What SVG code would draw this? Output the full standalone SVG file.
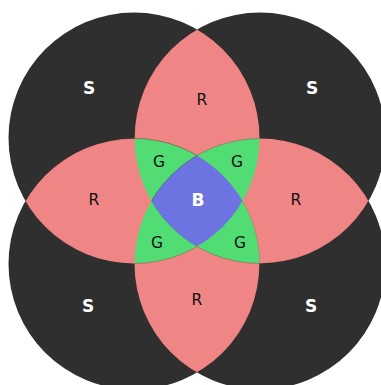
<svg xmlns="http://www.w3.org/2000/svg" width="381" height="385" viewBox="0 0 381 385">
<style>
.s{fill:#2f2f2f}
.r{fill:#f08585;stroke:#000;stroke-opacity:.25;stroke-width:.8}
.g{fill:#52dd74;stroke:#000;stroke-opacity:.25;stroke-width:.8}
.b{fill:#6e73e2;stroke:#000;stroke-opacity:.25;stroke-width:.8}
text{font-family:"DejaVu Sans","Liberation Sans",sans-serif;text-anchor:middle;dominant-baseline:central}
.lw{fill:#fff;font-weight:bold;font-size:17px}
.lk{fill:#111;font-size:15.5px}
</style>
<defs>
<circle id="cTL" cx="134" cy="138" r="125.5"/>
<circle id="cTR" cx="260" cy="138" r="125.5"/>
<circle id="cBL" cx="134" cy="264" r="125.5"/>
<circle id="cBR" cx="260" cy="264" r="125.5"/>
<clipPath id="kTL"><use href="#cTL"/></clipPath>
<clipPath id="kTR"><use href="#cTR"/></clipPath>
<clipPath id="kBL"><use href="#cBL"/></clipPath>
<clipPath id="kBR"><use href="#cBR"/></clipPath>
</defs>
<g id="sets">
<use href="#cTL" class="s"/>
<use href="#cTR" class="s"/>
<use href="#cBL" class="s"/>
<use href="#cBR" class="s"/>
</g>
<g id="R-regions">
<g clip-path="url(#kTL)"><use href="#cTR" class="r"/></g>
<g clip-path="url(#kTL)"><use href="#cBL" class="r"/></g>
<g clip-path="url(#kBR)"><use href="#cTR" class="r"/></g>
<g clip-path="url(#kBR)"><use href="#cBL" class="r"/></g>
</g>
<g id="G-regions">
<g clip-path="url(#kTL)"><g clip-path="url(#kTR)"><use href="#cBL" class="g"/></g></g>
<g clip-path="url(#kTL)"><g clip-path="url(#kTR)"><use href="#cBR" class="g"/></g></g>
<g clip-path="url(#kBL)"><g clip-path="url(#kBR)"><use href="#cTL" class="g"/></g></g>
<g clip-path="url(#kBL)"><g clip-path="url(#kBR)"><use href="#cTR" class="g"/></g></g>
</g>
<g id="B-region">
<g clip-path="url(#kTL)"><g clip-path="url(#kTR)"><g clip-path="url(#kBL)"><use href="#cBR" class="b"/></g></g></g>
</g>
<g id="labels">
<text class="lw" x="89" y="88">S</text>
<text class="lw" x="312" y="88">S</text>
<text class="lw" x="88" y="306">S</text>
<text class="lw" x="311" y="306">S</text>
<text class="lk" x="202" y="100">R</text>
<text class="lk" x="94" y="200">R</text>
<text class="lk" x="296" y="200">R</text>
<text class="lk" x="197" y="300">R</text>
<text class="lk" x="159" y="162">G</text>
<text class="lk" x="237" y="162">G</text>
<text class="lk" x="157" y="243">G</text>
<text class="lk" x="240" y="243">G</text>
<text class="lw" x="198" y="200">B</text>
</g>
</svg>
